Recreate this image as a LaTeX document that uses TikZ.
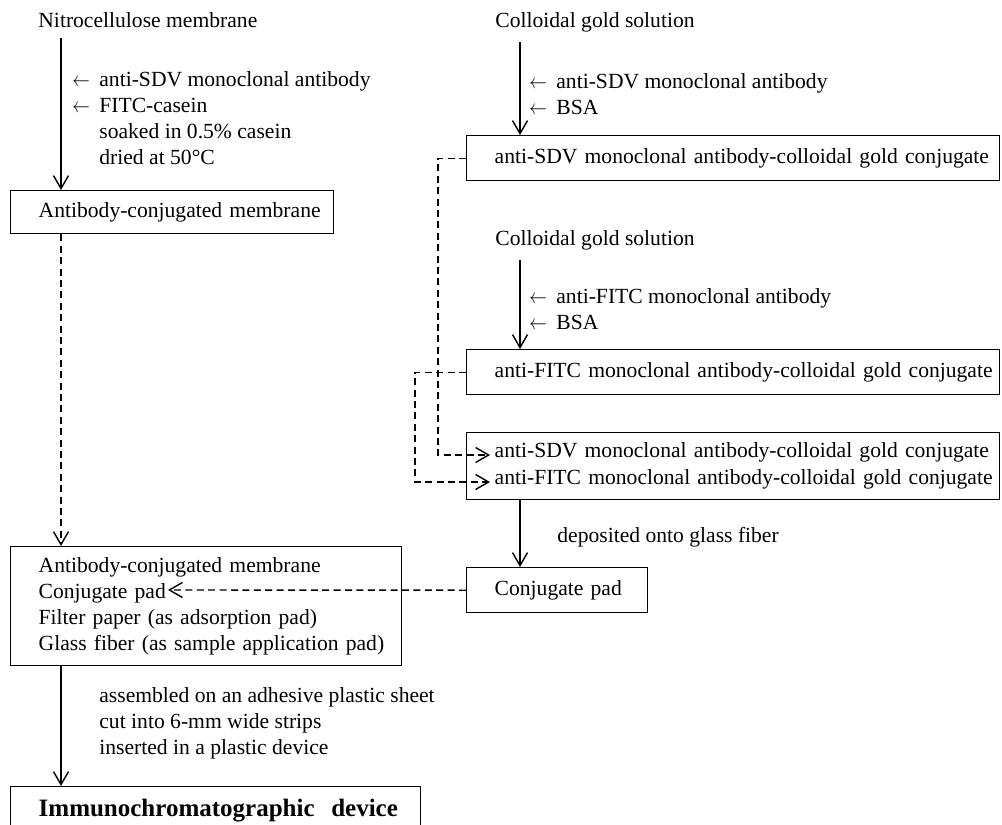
\documentclass[tikz,border=0pt]{standalone}
\usepackage{fontspec}
\setmainfont{Liberation Serif}
\usepackage{graphicx}
\usetikzlibrary{arrows.meta,positioning}

\newcommand{\addin}{\makebox[13.5pt][l]{\scalebox{0.8}[0.95]{$\leftarrow$}}}
\newcommand{\noadd}{\hspace*{13.5pt}}

\begin{document}
\begin{tikzpicture}
  [x=0.5pt,y=-0.5pt,
   every node/.style={font=\fontsize{10.8}{13}\selectfont},
   box/.style={draw,line width=0.7pt,anchor=north west,align=left,inner xsep=14pt,inner ysep=0pt},
   note/.style={anchor=west,align=left,inner sep=0pt},
   src/.style={anchor=west,inner sep=0pt},
   flow/.style={-{Straight Barb[length=6.5pt,width=7.5pt]},line width=0.7pt},
   link/.style={flow,dash pattern=on 3.5pt off 2.2pt}]
  \useasboundingbox (0,0) rectangle (1002,825);
  \coordinate (xl) at (61,0);
  \coordinate (xr) at (520,0);
  \node (nitro) [src] at (38,20) {Nitrocellulose membrane};
  \node (addL) [note] at (72,118) {\addin anti-SDV monoclonal antibody\\ \addin FITC-casein\\ \noadd soaked in 0.5\% casein\\ \noadd dried at 50\textdegree C};
  \node (memb) [box,text width=133.5pt,minimum height=21.5pt] at (10,190) {\mbox{Antibody-conjugated membrane}};
  \node (colA) [src] at (495,22) {Colloidal gold solution};
  \node (addA) [note] at (529,94) {\addin anti-SDV monoclonal antibody\\ \addin BSA};
  \node (sdvc) [box,text width=238.5pt,minimum height=22.5pt] at (466,135) {\mbox{anti-SDV monoclonal antibody-colloidal gold conjugate}};
  \node (colB) [src] at (495,240) {Colloidal gold solution};
  \node (addB) [note] at (529,309) {\addin anti-FITC monoclonal antibody\\ \addin BSA};
  \node (fitc) [box,text width=238.5pt,minimum height=22.5pt] at (466,349) {\mbox{anti-FITC monoclonal antibody-colloidal gold conjugate}};
  \node (mix) [box,text width=238.5pt,minimum height=33.5pt,font=\fontsize{10.8}{13.5}\selectfont] at (466,432) {\mbox{anti-SDV monoclonal antibody-colloidal gold conjugate}\\ \mbox{anti-FITC monoclonal antibody-colloidal gold conjugate}};
  \node (depo) [note] at (557,537) {deposited onto glass fiber};
  \node (pad) [box,text width=62.5pt,minimum height=22.5pt] at (466,567) {\mbox{Conjugate pad}};
  \node (parts) [box,text width=167.5pt,minimum height=59.5pt] at (10,546) {\mbox{Antibody-conjugated membrane}\\ \mbox{Conjugate pad}\\ \mbox{Filter paper (as adsorption pad)}\\ \mbox{Glass fiber (as sample application pad)}};
  \node (asm) [note] at (99,723) {assembled on an adhesive plastic sheet\\ cut into 6-mm wide strips\\ inserted in a plastic device};
  \node (dev) [box,text width=177pt,minimum height=24pt,font=\fontsize{12.5}{15}\bfseries\selectfont] at (10,786) {\mbox{Immunochromatographic\ \ device}};
  \coordinate (inS) at (490,455);
  \coordinate (inF) at (490,482);
  \coordinate (padin) at (168,590);
  \draw[flow,shorten <=5pt] (nitro.south -| xl) -- (memb.north -| xl);
  \draw[link] (memb.south -| xl) -- (parts.north -| xl);
  \draw[flow] (parts.south -| xl) -- (dev.north -| xl);
  \draw[flow,shorten <=5pt] (colA.south -| xr) -- (sdvc.north -| xr);
  \draw[flow,shorten <=5pt] (colB.south -| xr) -- (fitc.north -| xr);
  \draw[flow] (mix.south -| xr) -- (pad.north -| xr);
  \draw[link] (sdvc.west) -- ++(-28,0) |- (inS);
  \draw[link] (fitc.west) -- ++(-51,0) |- (inF);
  \draw[link] (pad.west) -- (padin);
\end{tikzpicture}
\end{document}
